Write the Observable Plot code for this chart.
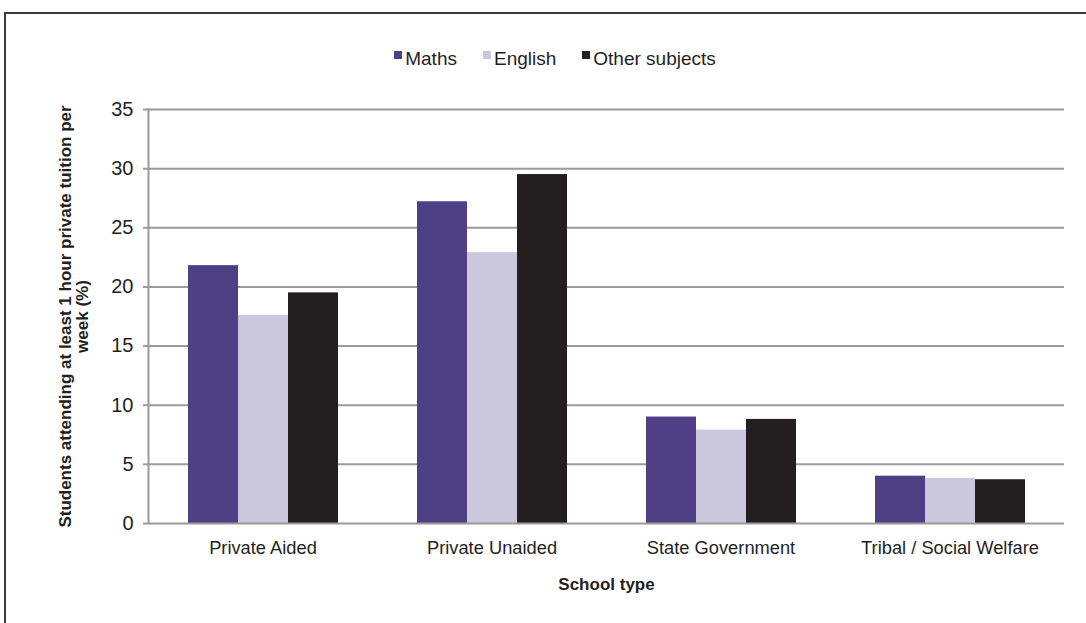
<!DOCTYPE html>
<html>
<head>
<meta charset="utf-8">
<script src="https://cdn.jsdelivr.net/npm/d3@7"></script>
<script src="https://cdn.jsdelivr.net/npm/@observablehq/plot@0.6"></script>
<style>
  html, body { margin: 0; padding: 0; background: #fff; }
  body { width: 1086px; height: 623px; overflow: hidden; position: relative;
         font-family: "Liberation Sans Narrow", "Liberation Sans", Arial, sans-serif; color: #231f20; }
  #border { position: absolute; left: 4px; top: 12px; width: 1200px; height: 800px;
            border-left: 2px solid #3a3a3a; border-top: 2px solid #3a3a3a; box-sizing: border-box; }
  #legend { position: absolute; top: 47px; left: 0; width: 1086px; padding-left: 24px; box-sizing: border-box;
            display: flex; justify-content: center; gap: 26px; font-size: 19px; line-height: 23px; }
  .item { display: flex; align-items: flex-start; }
  .sw { width: 8px; height: 8px; margin-top: 4px; margin-right: 3px; }
  #chart { position: absolute; top: 80px; left: 0; }
</style>
</head>
<body>
<div id="border"></div>
<div id="legend"></div>
<div id="chart"></div>
<script>
const categories = ["Private Aided", "Private Unaided", "State Government", "Tribal / Social Welfare"];
const series = ["Maths", "English", "Other subjects"];
const colors = ["#4f3f85", "#cbc7dc", "#231f20"];
const maths = [21.8, 27.2, 9.0, 4.0];
const english = [17.6, 22.9, 7.9, 3.8];
const other = [19.5, 29.5, 8.8, 3.7];
const yTicks = [0, 5, 10, 15, 20, 25, 30, 35];

const seriesValues = [maths, english, other];
const data = [];
categories.forEach((c, i) => {
  series.forEach((s, j) => data.push({category: c, series: s, value: seriesValues[j][i]}));
});

// legend
const legend = document.getElementById("legend");
series.forEach((s, j) => {
  const it = document.createElement("div");
  it.className = "item";
  const sw = document.createElement("div");
  sw.className = "sw";
  sw.style.background = colors[j];
  const t = document.createElement("span");
  t.textContent = s;
  it.appendChild(sw); it.appendChild(t);
  legend.appendChild(it);
});

const font = '"Liberation Sans Narrow", "Liberation Sans", Arial, sans-serif';

const chart = Plot.plot({
  width: 1086,
  height: 543,
  marginLeft: 147,
  marginRight: 21,
  marginTop: 29,
  marginBottom: 100,
  style: {fontFamily: font, fontSize: "18px", color: "#231f20", background: "transparent"},
  fx: {domain: categories, padding: 0, label: null},
  x: {domain: series, paddingInner: 0, paddingOuter: 0.75, axis: null},
  y: {domain: [0, 35], label: null},
  color: {domain: series, range: colors},
  marks: [
    Plot.ruleY(yTicks.filter(d => d > 0), {stroke: "#9a9a9a", strokeWidth: 2}),
    Plot.barY(data, {fx: "category", x: "series", y: "value", fill: "series", inset: 0}),
    Plot.ruleY([0], {stroke: "#9a9a9a", strokeWidth: 2}),
    Plot.frame({anchor: "left", stroke: "#9a9a9a", strokeWidth: 2, fx: ["Private Aided"]}),
    Plot.axisY({ticks: yTicks, tickSize: 5, tickPadding: 10, stroke: "#9a9a9a", strokeWidth: 2,
                tickFormat: d => String(d), fill: "#231f20", fontSize: 20,
                label: "Students attending at least 1 hour private tuition per\nweek (%)",
                labelAnchor: "center", labelArrow: "none", labelOffset: 90}),
    Plot.axisFx({anchor: "bottom", tickSize: 0, tickPadding: 17, fill: "#231f20", fontSize: 18.3,
                 label: "School type", labelAnchor: "center", labelArrow: "none", labelOffset: 66})
  ]
});

// bold axis titles
chart.querySelectorAll("[aria-label$='axis label']").forEach(el => {
  el.setAttribute("font-weight", "bold");
  el.setAttribute("font-size", "17");
});
document.getElementById("chart").appendChild(chart);
</script>
</body>
</html>
